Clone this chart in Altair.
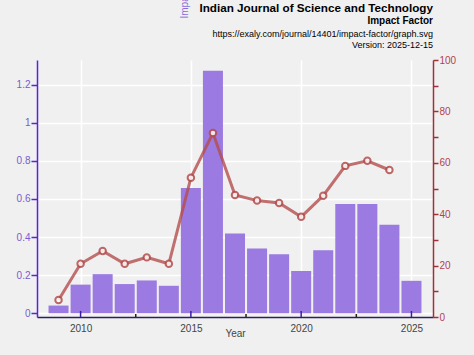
import altair as alt
import pandas as pd

# ---- data ----
years = list(range(2009, 2026))
impact_factor = [0.04, 0.15, 0.205, 0.153, 0.172, 0.144, 0.658, 1.274, 0.419,
                 0.34, 0.31, 0.221, 0.33, 0.574, 0.574, 0.465, 0.17]
line_years = list(range(2009, 2025))
line_values = [6.6, 20.7, 25.7, 20.7, 23.2, 20.7, 54.2, 71.6, 47.5,
               45.3, 44.4, 39.0, 47.2, 58.8, 60.8, 57.2]

x_label_years = [2010, 2015, 2020, 2025]
x_minor_ticks = [2012.5, 2017.5, 2022.5]
left_ticks = [0, 0.2, 0.4, 0.6, 0.8, 1.0, 1.2]
right_ticks = [0, 10, 20, 30, 40, 50, 60, 70, 80, 90, 100]

title_text = "Indian Journal of Science and Technology"
subtitle_text = "Impact Factor"
url_text = "https://exaly.com/journal/14401/impact-factor/graph.svg"
version_text = "Version: 2025-12-15"
x_title = "Year"
y_title = "Impact Factor"

# ---- layout / style ----
W, H = 396, 257
FONT = "Liberation Sans"
BG = "#f0f0f0"
BAR = "#9673e0"
LINE = "#b44e4e"
LEFT_C = "#5a22dd"
LEFT_L = "#7a5bcf"
RIGHT_C = "#a0303a"
RIGHT_L = "#b34050"

bars_df = pd.DataFrame({"year": years, "value": impact_factor})
line_df = pd.DataFrame({"year": line_years, "value2": line_values})
major_df = pd.DataFrame({"year": x_label_years})
minor_df = pd.DataFrame({"year": x_minor_ticks})

xscale = alt.Scale(domain=[2008.25, 2025.75], nice=False, zero=False)
xaxis = alt.Axis(values=x_label_years, format="d", title=x_title, grid=True,
                 gridColor="white", gridWidth=1.5, ticks=False,
                 domainColor="#2b1f5c", domainWidth=1.5,
                 labelColor="#444444", labelFontSize=10, labelFont=FONT,
                 labelPadding=6, titleFont=FONT, titleFontSize=10,
                 titleFontWeight="normal", titleColor="#444444",
                 titleY=16, titleBaseline="middle")

def X(field="year"):
    return alt.X(f"{field}:Q", scale=xscale, axis=xaxis)

bars = alt.Chart(bars_df).mark_bar(size=20, color=BAR, opacity=0.95).encode(
    x=X(),
    y=alt.Y("value:Q",
            scale=alt.Scale(domain=[-0.02, 1.33], nice=False, zero=False),
            axis=alt.Axis(values=left_ticks, format="~g", grid=True,
                          gridColor="white", gridWidth=1.5,
                          domainColor=LEFT_C, domainWidth=1.5,
                          tickColor=LEFT_C, tickSize=6, tickWidth=1.5,
                          labelColor=LEFT_L, labelFontSize=10, labelFont=FONT,
                          labelPadding=1, title=y_title, titleAngle=270,
                          titleX=147, titleY=-42, titleAlign="left",
                          titleBaseline="middle", titleColor="#8a6bd8",
                          titleFont=FONT, titleFontSize=10,
                          titleFontWeight="normal")),
)

right_axis = alt.Axis(orient="right", values=right_ticks,
                      labelExpr="datum.value % 20 == 0 ? datum.label : ''",
                      grid=False, domainColor=RIGHT_C, domainWidth=1.5,
                      tickColor=RIGHT_C, tickSize=5, tickWidth=1.5,
                      labelColor=RIGHT_L, labelFontSize=10, labelFont=FONT,
                      labelPadding=1)
yright = alt.Y("value2:Q", scale=alt.Scale(domain=[0, 100], nice=False),
               axis=right_axis, title=None)

line = alt.Chart(line_df).mark_line(color=LINE, strokeWidth=3, opacity=0.8).encode(
    x=X(), y=yright)
points = alt.Chart(line_df).mark_point(shape="circle", fill="white", fillOpacity=1,
                                       stroke=LINE, strokeWidth=2, size=42,
                                       opacity=0.85).encode(x=X(), y=yright)
right = alt.layer(line, points)

major_ticks = alt.Chart(major_df).mark_rule(color="#3a1fa0", strokeWidth=1.5).encode(
    x=X(), y=alt.value(H), y2=alt.value(H - 6))
minor_ticks = alt.Chart(minor_df).mark_rule(color="#222222", strokeWidth=1.5).encode(
    x=X(), y=alt.value(H), y2=alt.value(H - 3))

def label(text, ybase, size, weight):
    return alt.Chart(pd.DataFrame({"t": [text]})).mark_text(
        align="right", baseline="alphabetic", fontSize=size, fontWeight=weight,
        font=FONT, color="black").encode(
        x=alt.value(W), y=alt.value(ybase - 60), text="t:N")

texts = [
    label(title_text, 12, 11.7, "bold"),
    label(subtitle_text, 24, 10, "bold"),
    label(url_text, 37, 9, "normal"),
    label(version_text, 48, 9, "normal"),
]

chart = alt.layer(bars, right, major_ticks, minor_ticks, *texts).resolve_scale(
    y="independent"
).properties(
    width=W, height=H,
    padding={"left": 37, "top": 60, "right": 41, "bottom": 38},
    autosize=alt.AutoSizeParams(type="none"),
    background=BG,
).configure_view(fill=BG, strokeWidth=0)

chart.save("out.html", embed_options={"renderer": "svg", "actions": False})
